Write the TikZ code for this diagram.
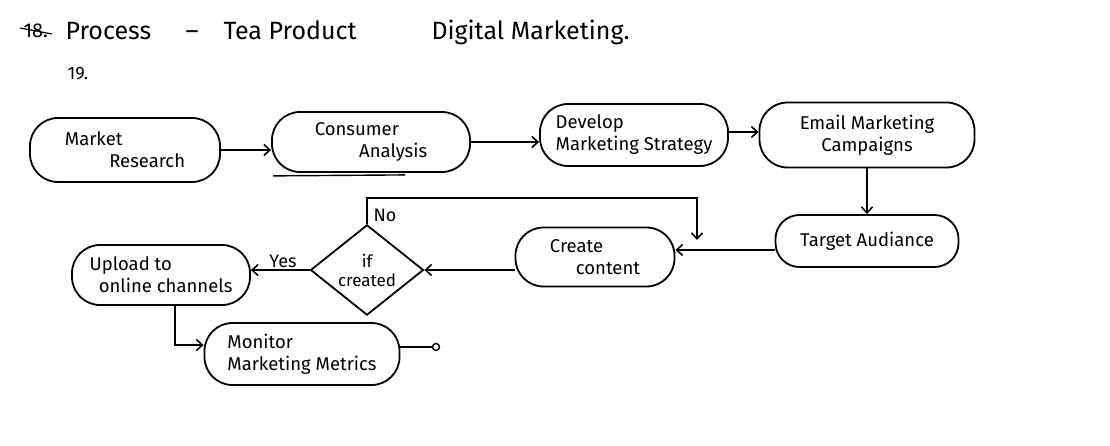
\documentclass[tikz,border=0pt]{standalone}
\usepackage{fontspec}
\setmainfont{Fira Sans}
\usetikzlibrary{shapes.geometric,arrows.meta}
\begin{document}
\begin{tikzpicture}[x=1pt,y=-1pt,
  box/.style={draw,line width=1.8pt,rounded corners=28pt,font=\fontsize{18.5}{22}\selectfont,inner sep=0pt},
  dec/.style={draw,diamond,line width=1.8pt,inner sep=0pt,minimum width=113pt,minimum height=85pt,font=\fontsize{17}{19}\selectfont,align=center},
  conn/.style={line width=1.6pt},
  arr/.style={conn,-{Straight Barb[length=6pt,width=11pt,line width=1.6pt]}},
  lab/.style={font=\fontsize{18}{20}\selectfont},
  title/.style={font=\fontsize{25}{27}\selectfont,anchor=base west}]
\useasboundingbox (0,0) rectangle (1110,446);
\fill[white] (0,0) rectangle (1110,446);

% title
\node[title,font=\fontsize{20}{22}\selectfont] (t0) at (20,38) {18.};
\draw[line width=1.2pt] (20,28) -- (52,34);
\node[title] (t1) at (62,40) {Process};
\node[title] (t1b) at (182,40) {–};
\node[title] (t1c) at (220,40) {Tea Product};
\node[title] (t1d) at (428,40) {Digital Marketing.};
\node[title,font=\fontsize{18}{20}\selectfont] (t2) at (64,80) {19.};

% nodes
\node[box,minimum width=190pt,minimum height=64pt,align=left] (mr) at (125,150) {Market\\\hspace*{2.4em}Research};
\node[box,minimum width=198pt,minimum height=60pt,align=left] (ca) at (371,142) {Consumer\\\hspace*{2.4em}Analysis};
\draw[line width=1.4pt] (ca.south west)++(2,3) -- ++(132,-1);
\node[box,minimum width=188pt,minimum height=62pt,align=left] (dm) at (634,135) {Develop\\Marketing Strategy};
\node[box,minimum width=215pt,minimum height=65pt,align=center] (em) at (867,135) {Email Marketing\\Campaigns};
\node[box,minimum width=183pt,minimum height=52pt,rounded corners=24pt] (ta) at (867,241) {Target Audiance};
\node[box,minimum width=159pt,minimum height=59pt,align=left] (cc) at (595,257) {Create\\\hspace*{1.4em}content};
\node[dec] (ic) at (367,270) {if\\created};
\node[box,minimum width=178pt,minimum height=60pt,align=left] (up) at (161,275) {Upload to\\\hspace*{0.5em}online channels};
\node[box,minimum width=195pt,minimum height=62pt,align=left] (mm) at (302,354) {Monitor\\Marketing Metrics};
\coordinate (end) at (436,347);

% connectors
\draw[arr] (mr.east |- 0,150) -- (ca.west |- 0,150);
\draw[arr] (ca.east) -- (dm.west |- ca.east);
\draw[arr] (dm.east |- 0,132) -- (em.west |- 0,132);
\draw[arr] (em.south) -- (ta.north);
\draw[arr] (ta.west |- 0,250) -- (cc.east |- 0,250);
\draw[arr] (cc.west |- ic.east) -- (ic.east);
\draw[arr] (ic.north) -- (ic.north |- 0,198) -- (697,198) -- (697,240);
\node[lab,anchor=west] (no) at (370,215) {No};
\draw[arr] (ic.west) -- (up.east |- ic.west);
\node[lab] (yes) at (283,261) {Yes};
\draw[arr] (175,305) -- (175,345) -- (mm.west |- 0,345);
\draw[conn] (mm.east |- end) -- (end);
\draw[line width=1.4pt,fill=white] (end) circle (3.5pt);
\end{tikzpicture}
\end{document}
